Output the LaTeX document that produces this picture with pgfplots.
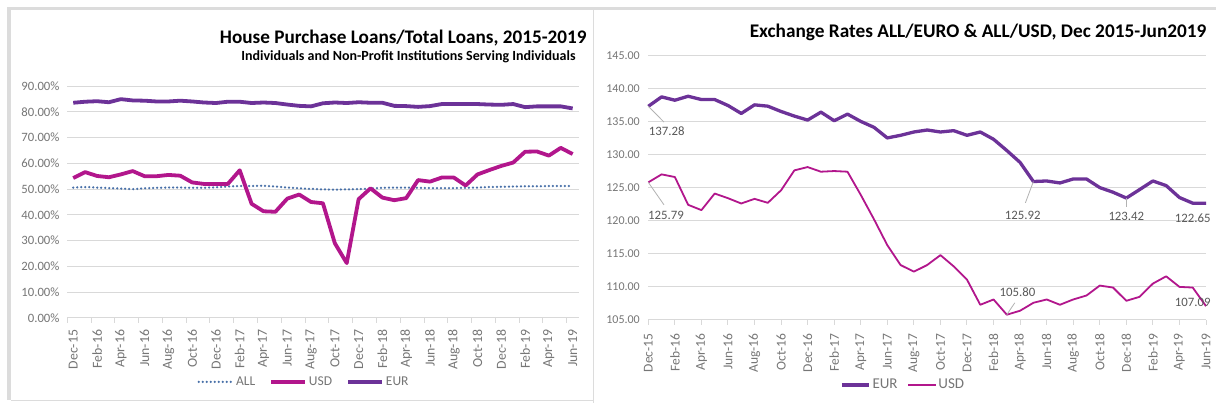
\documentclass[border=0pt]{standalone}
\usepackage{pgfplots}
\pgfplotsset{compat=1.18}
\usepackage{fontspec}
\setmainfont{Carlito}

\definecolor{eurc}{RGB}{108,50,152}
\definecolor{usdc}{RGB}{178,22,140}
\definecolor{allc}{RGB}{72,112,168}
\definecolor{tickc}{RGB}{118,118,118}
\definecolor{gridc}{RGB}{217,217,217}
\definecolor{framec}{RGB}{220,220,220}
\definecolor{labc}{RGB}{89,89,89}

% 1 pixel of the reference = 1pt here
\pgfplotsset{
  xl/.style={
    scale only axis,
    axis lines*=left,
    y axis line style={draw=none},
    x axis line style={draw=gridc, line width=1pt},
    ymajorgrids, grid style={draw=gridc, line width=1pt},
    ytick style={draw=none},
    tick label style={text=tickc},
    /pgf/number format/assume math mode=true,
    clip=false,
    legend cell align=left,
  },
}

\begin{document}
\begin{tikzpicture}
% page and panel frames
\fill[white] (0pt,0pt) rectangle (1216pt,417pt);
\fill[framec] (7pt,407pt) rectangle (1216pt,410pt);
\fill[framec] (7pt,17pt) rectangle (11pt,410pt);
\draw[framec, line width=0.8pt] (593pt,14pt) -- (593pt,407pt);
\draw[framec, line width=0.8pt] (11pt,17pt) -- (593pt,17pt);

% --- left: house purchase loans ---
\node[anchor=east, font=\bfseries\fontsize{19.2}{22}\selectfont] at (590pt,379pt) {House Purchase Loans/Total Loans, 2015-2019};
\node[anchor=east, font=\bfseries\fontsize{14}{16}\selectfont] at (579pt,360pt) {Individuals and Non-Profit Institutions Serving Individuals};

\begin{axis}[xl,
  at={(67.3pt,99pt)}, anchor=south west,
  width=511.3pt, height=232pt,
  xmin=-0.5, xmax=42.5, ymin=0, ymax=90,
  ytick={0,10,...,90},
  yticklabel={\pgfmathprintnumber[fixed,fixed zerofill,precision=2]{\tick}\%},
  y tick label style={font=\fontsize{12.7}{15}\selectfont},
  xtick={0,2,...,42},
  xticklabels={Dec-15,Feb-16,Apr-16,Jun-16,Aug-16,Oct-16,Dec-16,Feb-17,Apr-17,Jun-17,Aug-17,Oct-17,Dec-17,Feb-18,Apr-18,Jun-18,Aug-18,Oct-18,Dec-18,Feb-19,Apr-19,Jun-19},
  x tick label style={rotate=90, anchor=east, font=\fontsize{13.8}{16}\selectfont},
  xticklabel shift=4pt,
  major x tick style={draw=none},
  minor xtick={-0.5,1.5,...,42.5},
  minor x tick style={draw=gridc, line width=1pt},
  tick align=outside, minor tick length=5pt,
  legend columns=3,
  legend image code/.code={\draw[#1] (0pt,0pt) -- (34pt,0pt);},
  legend style={at={(0.463,-0.275)}, anchor=center, draw=none, fill=none,
    font=\fontsize{13.5}{15}\selectfont, text=tickc,
    /tikz/every even column/.append style={column sep=12pt}},
]
\addplot[allc, line width=2.5pt, line cap=round, dash pattern=on 0pt off 4pt] coordinates {
(0,50.6) (1,50.8) (2,50.6) (3,50.4) (4,50.2) (5,50.0) (6,50.3) (7,50.5) (8,50.6) (9,50.6)
(10,50.5) (11,50.5) (12,50.7) (13,51.0) (14,51.2) (15,51.2) (16,51.3) (17,51.0) (18,50.6) (19,50.3)
(20,50.1) (21,49.9) (22,49.8) (23,49.9) (24,50.0) (25,50.2) (26,50.5) (27,50.6) (28,50.6) (29,50.5)
(30,50.4) (31,50.4) (32,50.4) (33,50.5) (34,50.6) (35,50.8) (36,50.9) (37,51.0) (38,51.1) (39,51.1)
(40,51.2) (41,51.2) (42,51.2)};
\addlegendentry{ALL}
\addplot[usdc, line width=3.8pt, line join=round] coordinates {
(0,54.3) (1,56.6) (2,55.1) (3,54.6) (4,55.7) (5,57.0) (6,55.0) (7,55.0) (8,55.5) (9,55.2)
(10,52.6) (11,52.0) (12,52.0) (13,52.0) (14,57.3) (15,44.3) (16,41.4) (17,41.2) (18,46.3) (19,47.9)
(20,45.0) (21,44.5) (22,29.0) (23,21.3) (24,46.1) (25,50.3) (26,46.7) (27,45.7) (28,46.5) (29,53.5)
(30,52.9) (31,54.5) (32,54.5) (33,51.4) (34,55.7) (35,57.4) (36,59.0) (37,60.3) (38,64.5) (39,64.6)
(40,63.0) (41,66.0) (42,63.6)};
\addlegendentry{USD}
\addplot[eurc, line width=3.8pt, line join=round] coordinates {
(0,83.5) (1,83.9) (2,84.1) (3,83.7) (4,84.9) (5,84.4) (6,84.3) (7,84.0) (8,84.0) (9,84.3)
(10,84.0) (11,83.6) (12,83.4) (13,83.9) (14,83.9) (15,83.4) (16,83.6) (17,83.4) (18,82.8) (19,82.3)
(20,82.1) (21,83.3) (22,83.6) (23,83.4) (24,83.7) (25,83.5) (26,83.5) (27,82.3) (28,82.2) (29,81.9)
(30,82.2) (31,83.0) (32,83.0) (33,83.0) (34,83.0) (35,82.8) (36,82.7) (37,83.0) (38,81.8) (39,82.1)
(40,82.1) (41,82.1) (42,81.3)};
\addlegendentry{EUR}
\end{axis}

% --- right: exchange rates ---
\node[anchor=east, font=\bfseries\fontsize{19.3}{22}\selectfont] at (1210pt,385pt) {Exchange Rates ALL/EURO \& ALL/USD, Dec 2015-Jun2019};

\begin{axis}[xl,
  at={(648.3pt,97pt)}, anchor=south west,
  width=557.7pt, height=264.8pt,
  xmin=0, xmax=42, ymin=105, ymax=145,
  ytick={105,110,...,145},
  yticklabel={\pgfmathprintnumber[fixed,fixed zerofill,precision=2]{\tick}},
  y tick label style={font=\fontsize{12}{14}\selectfont},
  xtick={0,2,...,42},
  xticklabels={Dec-15,Feb-16,Apr-16,Jun-16,Aug-16,Oct-16,Dec-16,Feb-17,Apr-17,Jun-17,Aug-17,Oct-17,Dec-17,Feb-18,Apr-18,Jun-18,Aug-18,Oct-18,Dec-18,Feb-19,Apr-19,Jun-19},
  x tick label style={rotate=90, anchor=east, font=\fontsize{13.5}{16}\selectfont},
  xticklabel shift=5pt,
  major x tick style={draw=gridc, line width=1pt},
  tick align=outside, major tick length=5pt,
  legend columns=2,
  legend image code/.code={\draw[#1] (0pt,0pt) -- (27pt,0pt);},
  legend style={at={(0.457,-0.245)}, anchor=center, draw=none, fill=none,
    font=\fontsize{15}{17}\selectfont, text=tickc,
    /tikz/every even column/.append style={column sep=8pt}},
]
\addplot[eurc, line width=3.3pt, line join=round] coordinates {
(0,137.28) (1,138.7) (2,138.2) (3,138.8) (4,138.3) (5,138.3) (6,137.4) (7,136.2) (8,137.5) (9,137.3)
(10,136.5) (11,135.8) (12,135.2) (13,136.4) (14,135.1) (15,136.1) (16,135.0) (17,134.1) (18,132.5) (19,132.9)
(20,133.4) (21,133.7) (22,133.4) (23,133.6) (24,132.9) (25,133.4) (26,132.3) (27,130.6) (28,128.8) (29,125.92)
(30,126.0) (31,125.7) (32,126.3) (33,126.3) (34,125.0) (35,124.3) (36,123.42) (37,124.7) (38,126.0) (39,125.3)
(40,123.5) (41,122.65) (42,122.65)};
\addlegendentry{EUR}
\addplot[usdc, line width=1.8pt, line join=round] coordinates {
(0,125.79) (1,127.0) (2,126.6) (3,122.4) (4,121.6) (5,124.1) (6,123.4) (7,122.6) (8,123.3) (9,122.7)
(10,124.6) (11,127.6) (12,128.1) (13,127.4) (14,127.5) (15,127.4) (16,123.9) (17,120.2) (18,116.3) (19,113.3)
(20,112.3) (21,113.3) (22,114.8) (23,113.1) (24,111.1) (25,107.3) (26,108.1) (27,105.80) (28,106.4) (29,107.6)
(30,108.1) (31,107.3) (32,108.1) (33,108.7) (34,110.2) (35,109.9) (36,107.9) (37,108.5) (38,110.5) (39,111.6)
(40,110.0) (41,109.9) (42,107.09)};
\addlegendentry{USD}

% data labels
\begin{scope}[font=\fontsize{12.8}{15}\selectfont, text=labc]
\draw[gray!60, line width=0.8pt] (axis cs:0,137.28) -- (axis cs:1.18,134.9);
\node at (axis cs:1.39,133.55) {137.28};
\draw[gray!60, line width=0.8pt] (axis cs:0,125.79) -- (axis cs:1.18,122.4);
\node at (axis cs:1.33,120.86) {125.79};
\draw[gray!60, line width=0.8pt] (axis cs:29,125.92) -- (axis cs:28.4,122.7);
\node at (axis cs:28.2,120.86) {125.92};
\draw[gray!60, line width=0.8pt] (axis cs:36,123.42) -- (axis cs:36,122.1);
\node at (axis cs:36,120.6) {123.42};
\node at (axis cs:41.0,120.3) {122.65};
\draw[gray!60, line width=0.8pt] (axis cs:27,105.80) -- (axis cs:27.6,107.6);
\node at (axis cs:27.8,109.2) {105.80};
\node at (axis cs:41.0,107.7) {107.09};
\end{scope}
\end{axis}
\end{tikzpicture}
\end{document}
